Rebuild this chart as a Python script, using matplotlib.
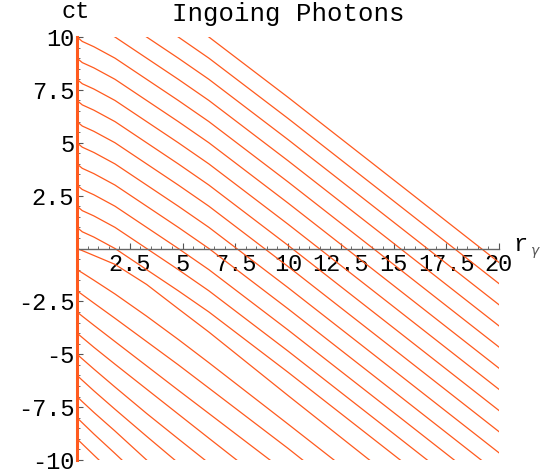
import numpy as np
import matplotlib
matplotlib.use('Agg')
from matplotlib import pyplot as plt
from matplotlib.ticker import MultipleLocator, FixedLocator

# radial sample points shared by every photon path
r_grid = [0, 0.25, 0.8, 1.8, 3.3, 4.8, 6.25, 10, 15, 20]

# paths arriving at r=0 after t=0 (ct at each r_grid point)
upper_paths = [
    [1, 0.79, 0.54, 0.0, -1.0, -2.0, -3.0, -5.85, -9.75, -13.66],
    [2, 1.79, 1.54, 1.0, 0.0, -1.0, -2.0, -4.85, -8.75, -12.66],
    [3, 2.79, 2.54, 2.0, 1.0, 0.0, -1.0, -3.85, -7.75, -11.66],
    [4, 3.79, 3.54, 3.0, 2.0, 1.0, 0.0, -2.85, -6.75, -10.66],
    [5, 4.79, 4.54, 4.0, 3.0, 2.0, 1.0, -1.85, -5.75, -9.66],
    [6, 5.79, 5.54, 5.0, 4.0, 3.0, 2.0, -0.85, -4.75, -8.66],
    [7, 6.79, 6.54, 6.0, 5.0, 4.0, 3.0, 0.15, -3.75, -7.66],
    [8, 7.79, 7.54, 7.0, 6.0, 5.0, 4.0, 1.15, -2.75, -6.66],
    [9, 8.79, 8.54, 8.0, 7.0, 6.0, 5.0, 2.15, -1.75, -5.66],
    [10, 9.79, 9.54, 9.0, 8.0, 7.0, 6.0, 3.15, -0.75, -4.66],
    [11, 10.79, 10.54, 10.0, 9.0, 8.0, 7.0, 4.15, 0.25, -3.66],
    [12, 11.79, 11.54, 11.0, 10.0, 9.0, 8.0, 5.15, 1.25, -2.66],
    [13, 12.79, 12.54, 12.0, 11.0, 10.0, 9.0, 6.15, 2.25, -1.66],
    [14, 13.79, 13.54, 13.0, 12.0, 11.0, 10.0, 7.15, 3.25, -0.66],
]

# paths arriving at r=0 at or before t=0
lower_paths = [
    [0, -0.1, -0.33, -0.75, -1.7, -2.85, -3.95, -6.95, -10.9, -14.85],
    [-1, -1.15, -1.5, -2.15, -3.2, -4.3, -5.4, -8.3, -12.2, -16.1],
    [-2, -2.18, -2.58, -3.3, -4.4, -5.5, -6.6, -9.45, -13.4, -17.3],
    [-3, -3.2, -3.63, -4.4, -5.55, -6.7, -7.8, -10.65, -14.6, -18.5],
    [-4, -4.21, -4.67, -5.47, -6.65, -7.83, -8.97, -11.9, -15.8, -19.7],
    [-5, -5.22, -5.7, -6.55, -7.8, -9.0, -10.15, -13.1, -17.0, -21.0],
    [-6, -6.23, -6.73, -7.6, -8.88, -10.14, -11.3, -14.3, -18.2, -22.1],
    [-7, -7.24, -7.75, -8.63, -10.0, -11.3, -12.5, -15.5, -19.4, -23.3],
    [-8, -8.24, -8.77, -9.69, -11.1, -12.4, -13.6, -16.6, -20.5, -24.4],
    [-9, -9.24, -9.77, -10.72, -12.1, -13.4, -14.6, -17.6, -21.5, -25.4],
]

x_ticks = [2.5, 5, 7.5, 10, 12.5, 15, 17.5, 20]
y_ticks = [-10, -7.5, -5, -2.5, 2.5, 5, 7.5, 10]

line_color = '#ff5a1e'
font = ['Liberation Mono', 'DejaVu Sans Mono']
fsize = 17

fig = plt.figure(figsize=(5.44, 4.74), dpi=100)
ax = fig.add_axes([77/544, 14/474, 422/544, 423/474])

for path in upper_paths + lower_paths:
    ax.plot(r_grid, path, color=line_color, lw=0.9, clip_on=True)
ax.plot([0, 0], [-10, 10], color=line_color, lw=2.2, clip_on=False, zorder=5)

ax.set_xlim(0, 20)
ax.set_ylim(-10, 10)

for side in ['top', 'right']:
    ax.spines[side].set_visible(False)
ax.spines['left'].set_position(('data', 0))
ax.spines['bottom'].set_position(('data', 0))
ax.spines['left'].set_color('#666666')
ax.spines['bottom'].set_color('#666666')
ax.spines['bottom'].set_linewidth(1.0)

ax.xaxis.set_major_locator(FixedLocator(x_ticks))
ax.yaxis.set_major_locator(FixedLocator(y_ticks))
ax.xaxis.set_minor_locator(MultipleLocator(0.5))
ax.yaxis.set_minor_locator(MultipleLocator(0.5))
ax.set_xticklabels([('%g' % v) for v in x_ticks], family=font, fontsize=fsize)
ax.set_yticklabels([('%g' % v) for v in y_ticks], family=font, fontsize=fsize)
ax.tick_params(which='major', direction='in', length=4, width=0.8, color='#555555', pad=2)
ax.tick_params(which='minor', direction='in', length=2.2, width=0.6, color='#555555')
ax.tick_params(axis='x', which='both', direction='in', pad=3)
for lbl in ax.get_xticklabels():
    lbl.set_verticalalignment('top')

fig.text(288/544, 1 - 14/474, 'Ingoing Photons', family=font, fontsize=18.5,
         ha='center', va='center')
fig.text(76/544, 1 - 12/474, 'ct', family=font, fontsize=fsize, ha='center', va='center')
fig.text(513/544, 1 - 244/474, 'r', family=font, fontsize=fsize, ha='left', va='center')
fig.text(530/544, 1 - 252/474, r'$\gamma$', fontsize=10, color='#555555', ha='left', va='center')

plt.savefig('out.png', dpi=100)
